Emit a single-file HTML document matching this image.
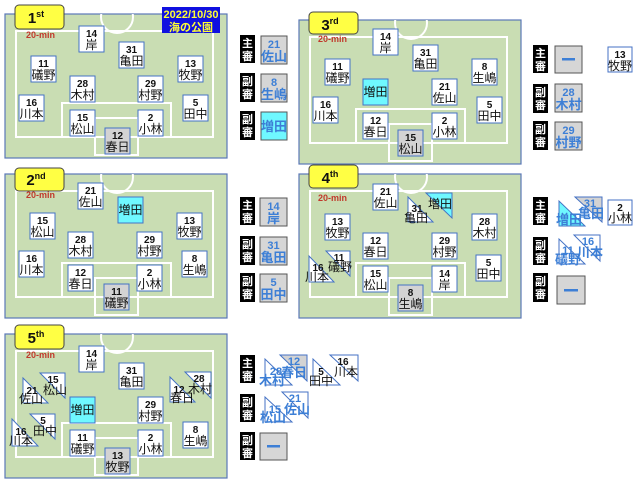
<!DOCTYPE html>
<html><head><meta charset="utf-8"><style>
html,body{margin:0;padding:0;background:#fff;}
svg{display:block;font-family:"Liberation Sans","Noto Sans CJK JP",sans-serif;}
.fld{fill:#c9ddb3;stroke:#5a77b8;stroke-width:1.2}
.ln{fill:none;stroke:#fff;stroke-width:2}
.w{fill:#fff;stroke:#4472c4;stroke-width:1}
.g{fill:#d3d3d3;stroke:#4472c4;stroke-width:1}
.c{fill:#6ff8ff;stroke:#4472c4;stroke-width:1}
.n{font-size:10px;font-weight:bold;text-anchor:middle;fill:#111}
.m{font-size:12px;text-anchor:middle;fill:#111}
.bn{font-size:11px;font-weight:bold;text-anchor:middle;fill:#3d7fd6}
.bm{font-size:13px;font-weight:bold;text-anchor:middle;fill:#3d7fd6}
.rk{fill:#000}
.rt{font-size:11px;font-weight:bold;fill:#fff;text-anchor:middle}
.rb{fill:#d6d6d6;stroke:#555;stroke-width:1}
.bdg{fill:#ffff44;stroke:#444;stroke-width:1}
.bt{font-size:15px;font-weight:bold;text-anchor:middle;fill:#111}
.min{font-size:9px;font-weight:bold;fill:#c0392b}
.dash{fill:#3d7fd6}
</style></head><body>
<svg width="640" height="485" viewBox="0 0 640 485" xmlns="http://www.w3.org/2000/svg">
<defs><clipPath id="fc"><rect x="0" y="0" width="222" height="144"/></clipPath>
<g id="pitch">
<rect class="fld" x="0" y="0" width="222" height="144"/>
<g clip-path="url(#fc)"><circle class="ln" cx="112" cy="3" r="16"/></g>
<rect class="ln" x="11" y="17" width="197" height="106"/>
<rect class="ln" x="57" y="89" width="109" height="34"/>
<rect class="ln" x="90" y="104" width="43" height="37"/>
</g></defs>

<!-- FIELD 1 -->
<g transform="translate(5,14)">
<use href="#pitch"/>
<rect class="bdg" x="10" y="-9" width="49" height="24" rx="4"/>
<text class="bt" x="31" y="9">1<tspan font-size="9" dy="-6">st</tspan></text>
<text class="min" x="21" y="24">20-min</text>
<rect x="157" y="-7" width="58" height="26" fill="#1010e0"/>
<text x="186" y="4" font-size="11" font-weight="bold" fill="#ffff33" text-anchor="middle">2022/10/30</text>
<text x="186" y="17" font-size="11" font-weight="bold" fill="#ffff33" text-anchor="middle">海の公園</text>
<rect class="w" x="74" y="12" width="25" height="26"/><text class="n" x="86.5" y="23">14</text><text class="m" x="86.5" y="35">岸</text>
<rect class="w" x="114" y="28" width="25" height="26"/><text class="n" x="126.5" y="39">31</text><text class="m" x="126.5" y="51">亀田</text>
<rect class="w" x="26" y="42" width="25" height="26"/><text class="n" x="38.5" y="53">11</text><text class="m" x="38.5" y="65">礒野</text>
<rect class="w" x="173" y="42" width="25" height="26"/><text class="n" x="185.5" y="53">13</text><text class="m" x="185.5" y="65">牧野</text>
<rect class="w" x="65" y="62" width="25" height="26"/><text class="n" x="77.5" y="73">28</text><text class="m" x="77.5" y="85">木村</text>
<rect class="w" x="133" y="62" width="25" height="26"/><text class="n" x="145.5" y="73">29</text><text class="m" x="145.5" y="85">村野</text>
<rect class="w" x="14" y="81" width="25" height="26"/><text class="n" x="26.5" y="92">16</text><text class="m" x="26.5" y="104">川本</text>
<rect class="w" x="178" y="81" width="25" height="26"/><text class="n" x="190.5" y="92">5</text><text class="m" x="190.5" y="104">田中</text>
<rect class="w" x="65" y="96" width="25" height="26"/><text class="n" x="77.5" y="107">15</text><text class="m" x="77.5" y="119">松山</text>
<rect class="w" x="133" y="96" width="25" height="26"/><text class="n" x="145.5" y="107">2</text><text class="m" x="145.5" y="119">小林</text>
<rect class="g" x="100" y="114" width="25" height="26"/><text class="n" x="112.5" y="125">12</text><text class="m" x="112.5" y="137">春日</text>
</g>
<!-- refs 1 -->
<rect class="rk" x="240" y="35" width="15" height="28"/><text class="rt" x="247.5" y="47">主</text><text class="rt" x="247.5" y="60">審</text>
<rect class="rb" x="261" y="36" width="26" height="28"/><text class="bn" x="274" y="48">21</text><text class="bm" x="274" y="61">佐山</text>
<rect class="rk" x="240" y="73" width="15" height="29"/><text class="rt" x="247.5" y="85">副</text><text class="rt" x="247.5" y="98">審</text>
<rect class="rb" x="261" y="74" width="26" height="28"/><text class="bn" x="274" y="86">8</text><text class="bm" x="274" y="99">生嶋</text>
<rect class="rk" x="240" y="111" width="15" height="29"/><text class="rt" x="247.5" y="123">副</text><text class="rt" x="247.5" y="136">審</text>
<rect x="261" y="112" width="26" height="28" fill="#6ff8ff" stroke="#555"/><text class="bm" x="274" y="131">増田</text>

<!-- FIELD 2 -->
<g transform="translate(5,174)">
<use href="#pitch"/>
<rect class="bdg" x="10" y="-6" width="49" height="23" rx="4"/>
<text class="bt" x="31" y="11">2<tspan font-size="9" dy="-6">nd</tspan></text>
<text class="min" x="21" y="24">20-min</text>
<rect class="w" x="73" y="9" width="25" height="26"/><text class="n" x="85.5" y="20">21</text><text class="m" x="85.5" y="32">佐山</text>
<rect class="c" x="113" y="23" width="25" height="26"/><text class="m" x="125.5" y="40">増田</text>
<rect class="w" x="25" y="39" width="25" height="26"/><text class="n" x="37.5" y="50">15</text><text class="m" x="37.5" y="62">松山</text>
<rect class="w" x="172" y="39" width="25" height="26"/><text class="n" x="184.5" y="50">13</text><text class="m" x="184.5" y="62">牧野</text>
<rect class="w" x="63" y="58" width="25" height="26"/><text class="n" x="75.5" y="69">28</text><text class="m" x="75.5" y="81">木村</text>
<rect class="w" x="132" y="58" width="25" height="26"/><text class="n" x="144.5" y="69">29</text><text class="m" x="144.5" y="81">村野</text>
<rect class="w" x="14" y="77" width="25" height="26"/><text class="n" x="26.5" y="88">16</text><text class="m" x="26.5" y="100">川本</text>
<rect class="w" x="177" y="77" width="25" height="26"/><text class="n" x="189.5" y="88">8</text><text class="m" x="189.5" y="100">生嶋</text>
<rect class="w" x="63" y="91" width="25" height="26"/><text class="n" x="75.5" y="102">12</text><text class="m" x="75.5" y="114">春日</text>
<rect class="w" x="132" y="91" width="25" height="26"/><text class="n" x="144.5" y="102">2</text><text class="m" x="144.5" y="114">小林</text>
<rect class="g" x="99" y="110" width="25" height="26"/><text class="n" x="111.5" y="121">11</text><text class="m" x="111.5" y="133">礒野</text>
</g>
<rect class="rk" x="240" y="197" width="15" height="28"/><text class="rt" x="247.5" y="209">主</text><text class="rt" x="247.5" y="222">審</text>
<rect class="rb" x="260" y="198" width="27" height="28"/><text class="bn" x="273.5" y="210">14</text><text class="bm" x="273.5" y="223">岸</text>
<rect class="rk" x="240" y="236" width="15" height="29"/><text class="rt" x="247.5" y="248">副</text><text class="rt" x="247.5" y="261">審</text>
<rect class="rb" x="260" y="237" width="27" height="28"/><text class="bn" x="273.5" y="249">31</text><text class="bm" x="273.5" y="262">亀田</text>
<rect class="rk" x="240" y="273" width="15" height="29"/><text class="rt" x="247.5" y="285">副</text><text class="rt" x="247.5" y="298">審</text>
<rect class="rb" x="260" y="274" width="27" height="28"/><text class="bn" x="273.5" y="286">5</text><text class="bm" x="273.5" y="299">田中</text>

<!-- FIELD 3 -->
<g transform="translate(299,20)">
<use href="#pitch"/>
<rect class="bdg" x="10" y="-8" width="49" height="22" rx="4"/>
<text class="bt" x="31" y="10">3<tspan font-size="9" dy="-6">rd</tspan></text>
<text class="min" x="19" y="22">20-min</text>
<rect class="w" x="74" y="9" width="25" height="26"/><text class="n" x="86.5" y="20">14</text><text class="m" x="86.5" y="32">岸</text>
<rect class="w" x="114" y="25" width="25" height="26"/><text class="n" x="126.5" y="36">31</text><text class="m" x="126.5" y="48">亀田</text>
<rect class="w" x="26" y="39" width="25" height="26"/><text class="n" x="38.5" y="50">11</text><text class="m" x="38.5" y="62">礒野</text>
<rect class="w" x="173" y="39" width="25" height="26"/><text class="n" x="185.5" y="50">8</text><text class="m" x="185.5" y="62">生嶋</text>
<rect class="c" x="64" y="59" width="25" height="26"/><text class="m" x="76.5" y="76">増田</text>
<rect class="w" x="133" y="59" width="25" height="26"/><text class="n" x="145.5" y="70">21</text><text class="m" x="145.5" y="82">佐山</text>
<rect class="w" x="14" y="77" width="25" height="26"/><text class="n" x="26.5" y="88">16</text><text class="m" x="26.5" y="100">川本</text>
<rect class="w" x="178" y="77" width="25" height="26"/><text class="n" x="190.5" y="88">5</text><text class="m" x="190.5" y="100">田中</text>
<rect class="w" x="64" y="93" width="25" height="26"/><text class="n" x="76.5" y="104">12</text><text class="m" x="76.5" y="116">春日</text>
<rect class="w" x="133" y="93" width="25" height="26"/><text class="n" x="145.5" y="104">2</text><text class="m" x="145.5" y="116">小林</text>
<rect class="g" x="99" y="110" width="25" height="26"/><text class="n" x="111.5" y="121">15</text><text class="m" x="111.5" y="133">松山</text>
</g>
<rect class="rk" x="533" y="45" width="15" height="28"/><text class="rt" x="540.5" y="57">主</text><text class="rt" x="540.5" y="70">審</text>
<rect class="rb" x="555" y="46" width="27" height="27"/><rect class="dash" x="562" y="58" width="13" height="2.5"/>
<rect class="rk" x="533" y="84" width="15" height="29"/><text class="rt" x="540.5" y="96">副</text><text class="rt" x="540.5" y="109">審</text>
<rect class="rb" x="555" y="84" width="27" height="28"/><text class="bn" x="568.5" y="96">28</text><text class="bm" x="568.5" y="109">木村</text>
<rect class="rk" x="533" y="121" width="15" height="29"/><text class="rt" x="540.5" y="133">副</text><text class="rt" x="540.5" y="146">審</text>
<rect class="rb" x="555" y="122" width="27" height="28"/><text class="bn" x="568.5" y="134">29</text><text class="bm" x="568.5" y="147">村野</text>
<rect class="w" x="608" y="47" width="24" height="25"/><text class="n" x="620" y="58">13</text><text class="m" x="620" y="70">牧野</text>

<!-- FIELD 4 -->
<g transform="translate(299,174)">
<use href="#pitch"/>
<rect class="bdg" x="10" y="-9" width="49" height="23" rx="4"/>
<text class="bt" x="31" y="9">4<tspan font-size="9" dy="-6">th</tspan></text>
<text class="min" x="19" y="27">20-min</text>
<rect class="w" x="74" y="10" width="25" height="26"/><text class="n" x="86.5" y="21">21</text><text class="m" x="86.5" y="33">佐山</text>
<rect class="w" x="26" y="40" width="25" height="26"/><text class="n" x="38.5" y="51">13</text><text class="m" x="38.5" y="63">牧野</text>
<rect class="w" x="173" y="40" width="25" height="26"/><text class="n" x="185.5" y="51">28</text><text class="m" x="185.5" y="63">木村</text>
<rect class="w" x="64" y="59" width="25" height="26"/><text class="n" x="76.5" y="70">12</text><text class="m" x="76.5" y="82">春日</text>
<rect class="w" x="133" y="59" width="25" height="26"/><text class="n" x="145.5" y="70">29</text><text class="m" x="145.5" y="82">村野</text>
<rect class="w" x="177" y="81" width="25" height="26"/><text class="n" x="189.5" y="92">5</text><text class="m" x="189.5" y="104">田中</text>
<rect class="w" x="64" y="92" width="25" height="26"/><text class="n" x="76.5" y="103">15</text><text class="m" x="76.5" y="115">松山</text>
<rect class="w" x="133" y="92" width="25" height="26"/><text class="n" x="145.5" y="103">14</text><text class="m" x="145.5" y="115">岸</text>
<rect class="g" x="99" y="111" width="25" height="26"/><text class="n" x="111.5" y="122">8</text><text class="m" x="111.5" y="134">生嶋</text>
</g>
<!-- F4 triangles -->
<polygon class="c" points="426,193 452,193 452,218"/><text class="m" x="440" y="208">増田</text>
<polygon class="w" points="408,197 408,222 433,222"/><text class="n" x="417" y="212">31</text><text class="m" x="416" y="222">亀田</text>
<polygon class="w" points="326,251 350,251 350,276"/><text class="n" x="339" y="261">11</text><text class="m" x="340" y="271">礒野</text>
<polygon class="w" points="309,256 309,282 334,282"/><text class="n" x="318" y="271">16</text><text class="m" x="317" y="281">川本</text>
<!-- F4 refs -->
<rect class="rk" x="533" y="197" width="15" height="28"/><text class="rt" x="540.5" y="209">主</text><text class="rt" x="540.5" y="222">審</text>
<polygon points="575,197 602,197 602,222" fill="#d3d3d3" stroke="#4472c4"/><text class="bn" x="590" y="207">31</text><text class="bm" x="591" y="218">亀田</text>
<polygon points="559,201 559,226 585,226" fill="#6ff8ff" stroke="#4472c4"/><text class="bm" x="569" y="224">増田</text>
<rect class="w" x="608" y="200" width="24" height="25"/><text class="n" x="620" y="211">2</text><text class="m" x="620" y="222">小林</text>
<rect class="rk" x="533" y="237" width="15" height="28"/><text class="rt" x="540.5" y="249">副</text><text class="rt" x="540.5" y="262">審</text>
<polygon class="w" points="574,235 600,235 600,261"/><text class="bn" x="588" y="245">16</text><text class="bm" x="590" y="257">川本</text>
<polygon class="w" points="559,239 559,264 585,264"/><text class="bn" x="568" y="254">11</text><text class="bm" x="568" y="264">礒野</text>
<rect class="rk" x="533" y="273" width="15" height="29"/><text class="rt" x="540.5" y="285">副</text><text class="rt" x="540.5" y="298">審</text>
<rect class="rb" x="557" y="276" width="28" height="28"/><rect class="dash" x="564" y="289" width="14" height="2.5"/>

<!-- FIELD 5 -->
<g transform="translate(5,334)">
<use href="#pitch"/>
<rect class="bdg" x="10" y="-9" width="49" height="24" rx="4"/>
<text class="bt" x="31" y="9">5<tspan font-size="9" dy="-6">th</tspan></text>
<text class="min" x="21" y="24">20-min</text>
<rect class="w" x="74" y="12" width="25" height="26"/><text class="n" x="86.5" y="23">14</text><text class="m" x="86.5" y="35">岸</text>
<rect class="w" x="114" y="29" width="25" height="26"/><text class="n" x="126.5" y="40">31</text><text class="m" x="126.5" y="52">亀田</text>
<rect class="c" x="65" y="63" width="25" height="26"/><text class="m" x="77.5" y="80">増田</text>
<rect class="w" x="133" y="63" width="25" height="26"/><text class="n" x="145.5" y="74">29</text><text class="m" x="145.5" y="86">村野</text>
<rect class="w" x="178" y="88" width="25" height="26"/><text class="n" x="190.5" y="99">8</text><text class="m" x="190.5" y="111">生嶋</text>
<rect class="w" x="65" y="96" width="25" height="26"/><text class="n" x="77.5" y="107">11</text><text class="m" x="77.5" y="119">礒野</text>
<rect class="w" x="133" y="96" width="25" height="26"/><text class="n" x="145.5" y="107">2</text><text class="m" x="145.5" y="119">小林</text>
<rect class="g" x="100" y="114" width="25" height="26"/><text class="n" x="112.5" y="125">13</text><text class="m" x="112.5" y="137">牧野</text>
</g>
<!-- F5 triangles -->
<polygon class="w" points="40,373 65,373 65,398"/><text class="n" x="53" y="383">15</text><text class="m" x="55" y="394">松山</text>
<polygon class="w" points="23,378 23,403 48,403"/><text class="n" x="32" y="394">21</text><text class="m" x="31" y="403">佐山</text>
<polygon class="w" points="185,372 211,372 211,398"/><text class="n" x="199" y="382">28</text><text class="m" x="200" y="393">木村</text>
<polygon class="w" points="170,377 170,402 195,402"/><text class="n" x="179" y="393">12</text><text class="m" x="182" y="402">春日</text>
<polygon class="w" points="30,414 55,414 55,439"/><text class="n" x="43" y="424">5</text><text class="m" x="45" y="435">田中</text>
<polygon class="w" points="12,419 12,446 38,446"/><text class="n" x="21" y="435">16</text><text class="m" x="21" y="445">川本</text>
<!-- F5 refs -->
<rect class="rk" x="240" y="355" width="15" height="28"/><text class="rt" x="247.5" y="367">主</text><text class="rt" x="247.5" y="380">審</text>
<polygon points="280,355 307,355 307,381" fill="#d3d3d3" stroke="#4472c4"/><text class="bn" x="294" y="365">12</text><text class="bm" x="294" y="377">春日</text>
<polygon class="w" points="265,359 265,385 292,385"/><text class="bn" x="276" y="375">28</text><text class="bm" x="272" y="385">木村</text>
<polygon class="w" points="330,355 358,355 358,381"/><text class="n" x="343" y="365">16</text><text class="m" x="346" y="376">川本</text>
<polygon class="w" points="313,359 313,385 340,385"/><text class="n" x="321" y="375">5</text><text class="m" x="321" y="385">田中</text>
<rect class="rk" x="240" y="394" width="15" height="28"/><text class="rt" x="247.5" y="406">副</text><text class="rt" x="247.5" y="419">審</text>
<polygon class="w" points="282,392 308,392 308,418"/><text class="bn" x="295" y="402">21</text><text class="bm" x="297" y="414">佐山</text>
<polygon class="w" points="265,397 265,422 292,422"/><text class="bn" x="275" y="413">15</text><text class="bm" x="273" y="422">松山</text>
<rect class="rk" x="240" y="432" width="15" height="28"/><text class="rt" x="247.5" y="444">副</text><text class="rt" x="247.5" y="457">審</text>
<rect class="rb" x="260" y="433" width="27" height="27"/><rect class="dash" x="267" y="445" width="13" height="2.5"/>
</svg>
</body></html>
